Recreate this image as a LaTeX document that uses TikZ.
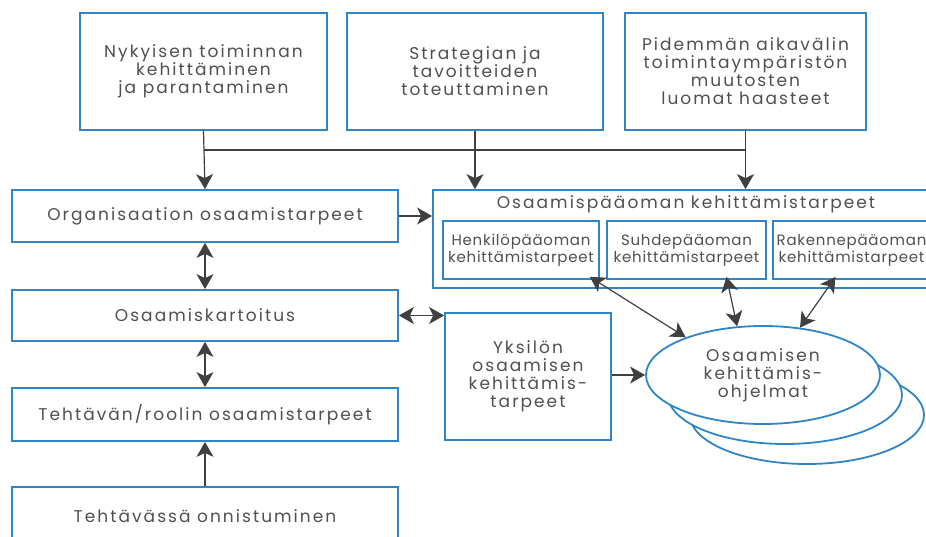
\documentclass[tikz,border=0pt]{standalone}
\usepackage{fontspec}
\setmainfont{Poppins}
\usetikzlibrary{arrows.meta,shapes.geometric}

\definecolor{boxblue}{HTML}{2F85C6}
\definecolor{txtgray}{HTML}{505050}
\definecolor{arrgray}{HTML}{404040}

\newcommand{\bigtxt}{\fontsize{17}{18}\selectfont\addfontfeature{LetterSpace=12}}
\newcommand{\smalltxt}{\fontsize{15}{17}\selectfont\addfontfeature{LetterSpace=5}}

\tikzset{
  box/.style={draw=boxblue,line width=1.8pt,fill=white,text=txtgray,
    align=center,inner sep=0pt,font=\bigtxt},
  innerbox/.style={box,font=\smalltxt,minimum height=58pt},
  prog/.style={box,ellipse,minimum width=234pt,minimum height=98pt},
  arr/.style={draw=arrgray,line width=1.2pt,-{Stealth[length=15pt,width=17pt,inset=4pt]}},
  darr/.style={draw=arrgray,line width=1.2pt,
    {Stealth[length=15pt,width=17pt,inset=4pt]}-{Stealth[length=15pt,width=17pt,inset=4pt]}},
  bus/.style={draw=arrgray,line width=1.2pt}
}

\begin{document}
\begin{tikzpicture}[x=1pt,y=-1pt]
  \useasboundingbox (0,0) rectangle (926,536);

  % top row
  \node[box,minimum width=247pt,minimum height=117pt] (nyk) at (203.5,71.5)
    {Nykyisen toiminnan\\kehittäminen\\ja parantaminen};
  \node[box,minimum width=256pt,minimum height=117pt] (str) at (475,71.5)
    {Strategian ja\\tavoitteiden\\toteuttaminen};
  \node[box,minimum width=241pt,minimum height=117pt] (pid) at (745.5,71.5)
    {Pidemmän aikavälin\\toimintaympäristön\\muutosten\\luomat haasteet};

  % left column
  \node[box,minimum width=386pt,minimum height=52pt] (org) at (205,216)
    {Organisaation osaamistarpeet};
  \node[box,minimum width=386pt,minimum height=51pt] (kart) at (205,315.5)
    {Osaamiskartoitus};
  \node[box,minimum width=386pt,minimum height=53pt] (teht) at (205,414.5)
    {Tehtävän/roolin osaamistarpeet};
  \node[box,minimum width=386pt,minimum height=58pt] (onn) at (205,516)
    {Tehtävässä onnistuminen};

  % capital block
  \node[box,minimum width=502pt,minimum height=98pt] (oma) at (684,239) {};
  \node[text=txtgray,font=\bigtxt] (omat) at (686,204)
    {Osaamispääoman kehittämistarpeet};
  \node[innerbox,minimum width=156pt] (hen) at (521,250)
    {Henkilöpääoman\\kehittämistarpeet};
  \node[innerbox,minimum width=159pt] (suh) at (686.5,250)
    {Suhdepääoman\\kehittämistarpeet};
  \node[innerbox,minimum width=157pt] (rak) at (851.5,250)
    {Rakennepääoman\\kehittämistarpeet};

  % individual needs and programmes
  \node[box,minimum width=166pt,minimum height=127pt] (yks) at (528,376.5)
    {Yksilön\\osaamisen\\kehittämis-\\tarpeet};
  \node[prog] (ohj3) at (807,415) {};
  \node[prog] (ohj2) at (785,395) {};
  \node[prog] (ohj) at (763,375) {Osaamisen\\kehittämis-\\ohjelmat};

  % connectors
  \coordinate (busy) at (0,150);
  \draw[bus] (nyk.south |- busy) -- (pid.south |- busy);
  \draw[arr] (nyk.south) -- (org.north);
  \draw[arr] (str.south) -- (str.south |- oma.north);
  \draw[arr] (pid.south) -- (pid.south |- oma.north);
  \draw[arr] (org.east) -- (oma.west |- org.east);

  \draw[darr] (org.south) -- (kart.north);
  \draw[darr] (kart.south) -- (teht.north);
  \draw[arr] (onn.north) -- (teht.south);
  \draw[darr] (kart.east) -- (yks.west |- kart.east);
  \draw[arr] (yks.east |- ohj.west) -- (ohj.west);

  \draw[darr] ([xshift=-10pt,yshift=3pt]hen.south east) -- (ohj.154);
  \draw[darr] ([xshift=40pt,yshift=3pt]suh.south) -- (ohj.118);
  \draw[darr] ([xshift=-16pt,yshift=3pt]rak.south) -- (ohj.52);
\end{tikzpicture}
\end{document}
